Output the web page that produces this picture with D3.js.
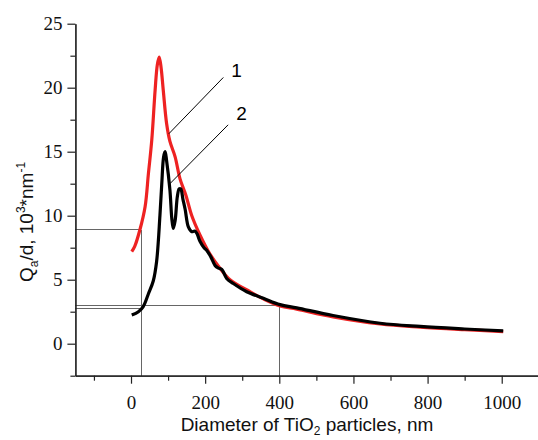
<!DOCTYPE html>
<html><head><meta charset="utf-8">
<script src="https://cdn.jsdelivr.net/npm/d3@7"></script>
<style>
body{margin:0;background:#fff;}
svg{display:block;}
</style></head>
<body>
<script>
// Data
const curve1 = [[2,7.2],[10,7.6],[24,8.9],[38,10.7],[47,13.3],[56,15.9],[65,19.8],[71,21.8],[76,22.4],[81,21.6],[87,19.8],[96,17.2],[105,15.8],[119,14.6],[132,12.9],[148,11.6],[164,10.0],[186,8.5],[213,7.0],[240,5.9],[267,5.0],[321,4.06],[357,3.5],[402,2.95],[447,2.7],[545,2.1],[672,1.55],[780,1.3],[900,1.1],[1004,0.95]];
const curve2 = [[2,2.24],[20,2.5],[33,2.9],[47,3.9],[60,4.9],[69,6.4],[78,10],[83,12.5],[88,14.6],[92,15.0],[96,14.3],[105,12.0],[110,9.8],[114,9.0],[119,9.6],[125,11.5],[130,12.1],[134,12.1],[140,11.3],[146,10.5],[155,9.1],[164,8.75],[172,8.8],[178,8.6],[186,8.0],[197,7.5],[204,7.3],[215,6.8],[227,6.1],[236,5.9],[245,5.8],[258,5.1],[276,4.7],[312,4.06],[357,3.55],[402,3.05],[447,2.8],[545,2.2],[672,1.6],[780,1.35],[900,1.15],[1004,1.0]];
const xMajorTicks = [0,200,400,600,800,1000];
const xMinorTicks = [-100,100,300,500,700,900,1100];
const yMajorTicks = [0,5,10,15,20,25];
const yMinorTicks = [-2.5,2.5,7.5,12.5,17.5,22.5];
// reference guide lines: [x1,y1,x2,y2] in data units
const guides = [[-150,8.9,27,8.9],[27,8.9,27,-2.5],[-150,3.0,400,3.0],[-150,2.75,27,2.75],[400,3.0,400,-2.5]];
const labels = [{t:"1", at:[102,16.4], to:[249,20.8]}, {t:"2", at:[105,12.5], to:[262,17.1]}];

const W=538,H=440;
const svg=d3.select("body").append("svg").attr("width",W).attr("height",H);
const x=d3.scaleLinear().domain([-150,1100]).range([75.4,538.8]);
const y=d3.scaleLinear().domain([-2.5,25]).range([375.7,23.7]);

// guides
svg.append("g").selectAll("line").data(guides).join("line")
  .attr("x1",d=>x(d[0])).attr("y1",d=>y(d[1])).attr("x2",d=>x(d[2])).attr("y2",d=>y(d[3]))
  .attr("stroke","#666").attr("stroke-width",1).attr("shape-rendering","crispEdges");

const line=d3.line().x(d=>x(d[0])).y(d=>y(d[1])).curve(d3.curveCatmullRom.alpha(0.5));
svg.append("path").datum(curve1).attr("d",line).attr("fill","none").attr("stroke","#ee2222").attr("stroke-width",3.2).attr("stroke-linejoin","round");
svg.append("path").datum(curve2).attr("d",line).attr("fill","none").attr("stroke","#000").attr("stroke-width",3.2).attr("stroke-linejoin","round");

// axes
const fontSerif='"Liberation Serif","Times New Roman",serif';
const fontSans='"Liberation Sans",Arial,sans-serif';
svg.append("g").attr("transform",`translate(0,${y(-2.5)})`)
  .call(d3.axisBottom(x).tickValues(xMajorTicks).tickSize(8).tickSizeOuter(0).tickPadding(12).tickFormat(d3.format("d")));
svg.append("g").attr("transform",`translate(0,${y(-2.5)})`)
  .call(d3.axisBottom(x).tickValues(xMinorTicks).tickSize(5).tickSizeOuter(0).tickFormat(""));
svg.append("g").attr("transform",`translate(${x(-150)},0)`)
  .call(d3.axisLeft(y).tickValues(yMajorTicks).tickSize(8).tickSizeOuter(0).tickPadding(5).tickFormat(d3.format("d")));
svg.append("g").attr("transform",`translate(${x(-150)},0)`)
  .call(d3.axisLeft(y).tickValues(yMinorTicks).tickSize(5).tickSizeOuter(0).tickFormat(""));
svg.selectAll(".domain,.tick line").attr("stroke","#222").attr("stroke-width",1.2);
svg.selectAll(".tick text").attr("font-family",fontSerif).attr("font-size",19).attr("fill","#111");

// annotations
svg.append("g").selectAll("line").data(labels).join("line")
  .attr("x1",d=>x(d.at[0])).attr("y1",d=>y(d.at[1])).attr("x2",d=>x(d.to[0])).attr("y2",d=>y(d.to[1]))
  .attr("stroke","#000").attr("stroke-width",1);
svg.append("g").selectAll("text").data(labels).join("text")
  .attr("x",d=>x(d.to[0])+8).attr("y",(d,i)=>i===0?77:120)
  .attr("font-family",fontSans).attr("font-size",19).text(d=>d.t);

// axis titles
const xt=svg.append("text").attr("x",307).attr("y",431).attr("text-anchor","middle")
  .attr("font-family",fontSans).attr("font-size",19).attr("fill","#111");
xt.append("tspan").text("Diameter of TiO");
xt.append("tspan").attr("font-size",12).attr("dy",4).text("2");
xt.append("tspan").attr("dy",-4).text(" particles, nm");

const yt=svg.append("text").attr("transform","translate(33,222) rotate(-90)").attr("text-anchor","middle")
  .attr("font-family",fontSans).attr("font-size",19).attr("fill","#111");
yt.append("tspan").text("Q");
yt.append("tspan").attr("font-size",12).attr("dy",5).text("a");
yt.append("tspan").attr("dy",-5).text("/d,  10");
yt.append("tspan").attr("font-size",12).attr("dy",-8).text("3");
yt.append("tspan").attr("dy",8).text("*nm");
yt.append("tspan").attr("font-size",12).attr("dy",-8).text("-1");
</script>
</body></html>
